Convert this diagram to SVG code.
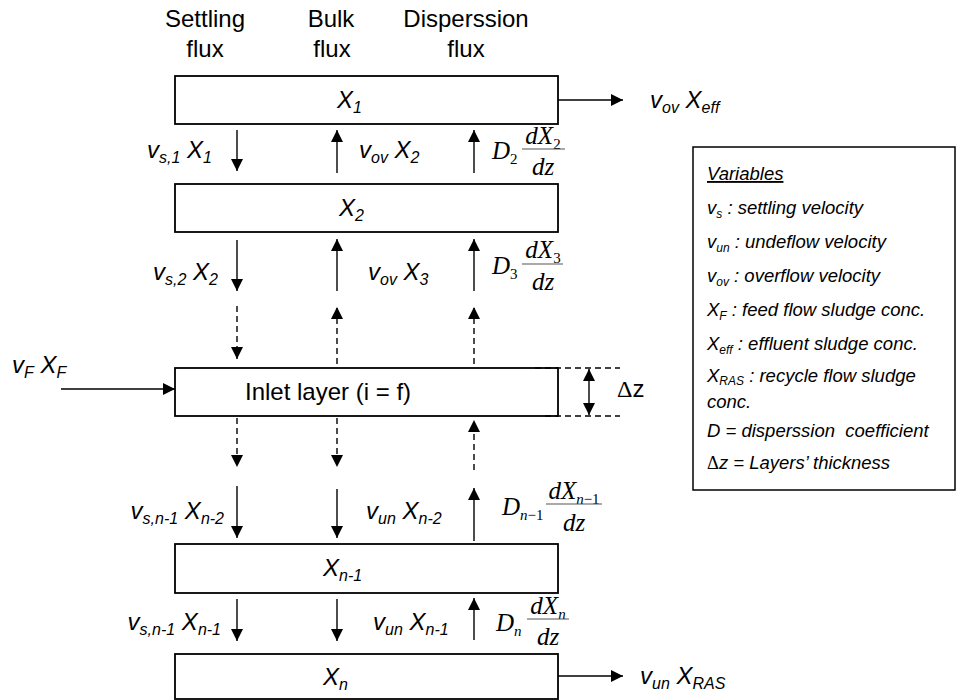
<svg xmlns="http://www.w3.org/2000/svg" width="956" height="700" viewBox="0 0 956 700">
<defs>
<style>
.a{font-family:"Liberation Sans",Arial,sans-serif;fill:#000}
.h{font-size:24px}
.m{font-size:24px;font-style:italic}
.sb{font-size:16px}
.v{font-size:18.5px;font-style:italic}
.vs{font-size:12px}
.s{font-family:"Liberation Serif","Times New Roman",serif;font-size:25px;font-style:italic;fill:#000}
.ss{font-size:15px}
.up{font-style:normal}
.box{fill:#fff;stroke:#000;stroke-width:1.8}
.ln{stroke:#000;stroke-width:1.4;fill:none}
.ar{marker-end:url(#ah)}
.ds{stroke-dasharray:6 4}
.fb{stroke:#555;stroke-width:1.2}
</style>
<marker id="ah" markerUnits="userSpaceOnUse" markerWidth="12" markerHeight="12" refX="12" refY="6" orient="auto-start-reverse" viewBox="0 0 12 12">
<path d="M0,0 L12,6 L0,12 z" fill="#000"/>
</marker>
</defs>

<g id="headers" class="a h" text-anchor="middle">
<text x="205" y="27">Settling</text><text x="205" y="57">flux</text>
<text x="331" y="27">Bulk</text><text x="332" y="57">flux</text>
<text x="466" y="27">Disperssion</text><text x="466" y="57">flux</text>
</g>

<g id="layer1">
<rect class="box" x="175" y="76" width="383" height="48"/>
<text class="a m" x="337" y="108">X<tspan class="sb" dy="5">1</tspan></text>
</g>
<g id="layer2">
<rect class="box" x="175" y="184" width="383" height="48"/>
<text class="a m" x="339" y="216">X<tspan class="sb" dy="5">2</tspan></text>
</g>
<g id="inlet">
<rect class="box" x="175" y="368" width="383" height="48"/>
<text class="a h" x="245" y="400">Inlet layer (i = f)</text>
</g>
<g id="layer-n-1">
<rect class="box" x="175" y="544" width="383" height="49"/>
<text class="a m" x="323" y="576">X<tspan class="sb" dy="5">n-1</tspan></text>
</g>
<g id="layer-n">
<rect class="box" x="175" y="654" width="383" height="45"/>
<text class="a m" x="323" y="685">X<tspan class="sb" dy="5">n</tspan></text>
</g>

<g id="connectors">
<path class="ln ar" d="M237,130 V171"/>
<path class="ln ar" d="M337,173 V130"/>
<path class="ln ar" d="M474,173 V130"/>
<path class="ln ar" d="M237,240 V291"/>
<path class="ln ar" d="M337,291 V239"/>
<path class="ln ar" d="M474,291 V239"/>
<path class="ln ar ds" d="M237,306 V359"/>
<path class="ln ar ds" d="M337,364 V307"/>
<path class="ln ar ds" d="M474,364 V307"/>
<path class="ln ar ds" d="M237,418 V467"/>
<path class="ln ar ds" d="M337,418 V467"/>
<path class="ln ar ds" d="M474,470 V420"/>
<path class="ln ar" d="M237,486 V538"/>
<path class="ln ar" d="M337,489 V538"/>
<path class="ln ar" d="M474,541 V488"/>
<path class="ln ar" d="M237,599 V641"/>
<path class="ln ar" d="M337,599 V641"/>
<path class="ln ar" d="M474,640 V598"/>
<path class="ln ar" d="M558,100 H623"/>
<path class="ln ar" d="M558,676 H623"/>
<path class="ln ar" d="M61,389 H175"/>
<path class="ln ds" d="M535,368 H620"/>
<path class="ln ds" d="M545,416 H620"/>
<path class="ln ar" style="marker-start:url(#ah)" d="M589,369 V415"/>
</g>

<g id="flux-labels" class="a m">
<text x="212" y="158" text-anchor="end">v<tspan class="sb" dy="5">s,1</tspan><tspan dy="-5"> X</tspan><tspan class="sb" dy="5">1</tspan></text>
<text x="359" y="158">v<tspan class="sb" dy="5">ov</tspan><tspan dy="-5"> X</tspan><tspan class="sb" dy="5">2</tspan></text>
<text x="218" y="280" text-anchor="end">v<tspan class="sb" dy="5">s,2</tspan><tspan dy="-5"> X</tspan><tspan class="sb" dy="5">2</tspan></text>
<text x="368" y="280">v<tspan class="sb" dy="5">ov</tspan><tspan dy="-5"> X</tspan><tspan class="sb" dy="5">3</tspan></text>
<text x="224" y="519" text-anchor="end">v<tspan class="sb" dy="5">s,n-1</tspan><tspan dy="-5"> X</tspan><tspan class="sb" dy="5">n-2</tspan></text>
<text x="366" y="519">v<tspan class="sb" dy="5">un</tspan><tspan dy="-5"> X</tspan><tspan class="sb" dy="5">n-2</tspan></text>
<text x="221" y="630" text-anchor="end">v<tspan class="sb" dy="5">s,n-1</tspan><tspan dy="-5"> X</tspan><tspan class="sb" dy="5">n-1</tspan></text>
<text x="373" y="630">v<tspan class="sb" dy="5">un</tspan><tspan dy="-5"> X</tspan><tspan class="sb" dy="5">n-1</tspan></text>
<text x="650" y="108">v<tspan class="sb" dy="5">ov</tspan><tspan dy="-5"> X</tspan><tspan class="sb" dy="5">eff</tspan></text>
<text x="640" y="684">v<tspan class="sb" dy="5">un</tspan><tspan dy="-5"> X</tspan><tspan class="sb" dy="5">RAS</tspan></text>
<text x="12" y="373">v<tspan class="sb" dy="5">F</tspan><tspan dy="-5"> X</tspan><tspan class="sb" dy="5">F</tspan></text>
</g>

<g id="dispersion-labels">
<text class="s" x="492" y="159">D<tspan class="ss up" dy="5">2</tspan></text>
<text class="s" x="543" y="144" text-anchor="middle">dX<tspan class="ss up" dy="5">2</tspan></text>
<line class="fb" x1="522" y1="149" x2="565" y2="149"/>
<text class="s" x="543" y="175" text-anchor="middle">dz</text>

<text class="s" x="492" y="274">D<tspan class="ss up" dy="5">3</tspan></text>
<text class="s" x="543" y="258" text-anchor="middle">dX<tspan class="ss up" dy="5">3</tspan></text>
<line class="fb" x1="522" y1="264" x2="563" y2="264"/>
<text class="s" x="543" y="290" text-anchor="middle">dz</text>

<text class="s" x="502" y="515">D<tspan class="ss" dy="5">n<tspan class="up">−1</tspan></tspan></text>
<text class="s" x="574" y="499" text-anchor="middle">dX<tspan class="ss" dy="5">n<tspan class="up">−1</tspan></tspan></text>
<line class="fb" x1="546" y1="504" x2="602" y2="504"/>
<text class="s" x="574" y="531" text-anchor="middle">dz</text>

<text class="s" x="496" y="631">D<tspan class="ss" dy="5">n</tspan></text>
<text class="s" x="548" y="614" text-anchor="middle">dX<tspan class="ss" dy="5">n</tspan></text>
<line class="fb" x1="527" y1="619" x2="569" y2="619"/>
<text class="s" x="548" y="645" text-anchor="middle">dz</text>

<text class="a h" x="617" y="397"><tspan style="font-family:'Liberation Serif',serif">Δ</tspan>z</text>
</g>

<g id="variables">
<rect x="693" y="147" width="262" height="343" fill="#fff" stroke="#000" stroke-width="1.5"/>
<g class="a v">
<text x="707" y="180" text-decoration="underline">Variables</text>
<text x="707" y="214">v<tspan class="vs" dy="4">s</tspan><tspan dy="-4"> : settling velocity</tspan></text>
<text x="707" y="248">v<tspan class="vs" dy="4">un</tspan><tspan dy="-4"> : undeflow velocity</tspan></text>
<text x="707" y="282">v<tspan class="vs" dy="4">ov</tspan><tspan dy="-4"> : overflow velocity</tspan></text>
<text x="707" y="316">X<tspan class="vs" dy="4">F</tspan><tspan dy="-4"> : feed flow sludge conc.</tspan></text>
<text x="707" y="350">X<tspan class="vs" dy="4">eff</tspan><tspan dy="-4"> : effluent sludge conc.</tspan></text>
<text x="707" y="382">X<tspan class="vs" dy="3">RAS</tspan><tspan dy="-3"> : recycle flow sludge</tspan></text>
<text x="707" y="408">conc.</text>
<text x="707" y="437" xml:space="preserve">D = disperssion  coefficient</text>
<text x="707" y="469"><tspan style="font-family:'Liberation Serif',serif;font-style:normal">Δ</tspan>z = Layers’ thickness</text>
</g>
</g>
</svg>
